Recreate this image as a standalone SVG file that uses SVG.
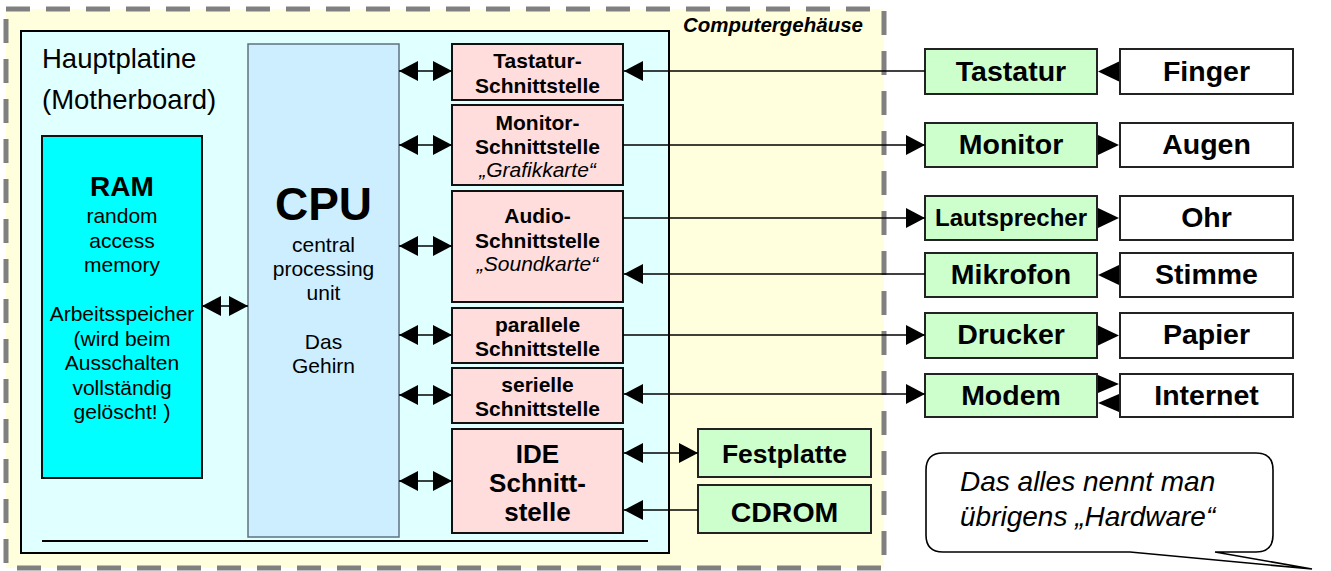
<svg xmlns="http://www.w3.org/2000/svg" width="1331" height="571" viewBox="0 0 1331 571">
<style>
text{font-family:"Liberation Sans",Arial,sans-serif;fill:#000}
.b{font-weight:bold}
.i{font-style:italic}
.c{text-anchor:middle}
.pink{fill:#FFDDDD;stroke:#111;stroke-width:2}
.green{fill:#CCFFCC;stroke:#222;stroke-width:2}
.white{fill:#FFFFFF;stroke:#222;stroke-width:2}
.ln{stroke:#000;stroke-width:1.6;fill:none}
.t21{font-size:21px}
.t28{font-size:28.5px}
</style>
<defs>
<marker id="ah" markerUnits="userSpaceOnUse" markerWidth="19" markerHeight="20" refX="19" refY="10" orient="auto-start-reverse" viewBox="0 0 19 20">
<path d="M0,0 L19,10 L0,20 Z" fill="#000"/>
</marker>
</defs>
<g id="gehaeuse">
<rect x="6" y="9" width="878" height="559" fill="#FFFFDD" stroke="#808080" stroke-width="5" stroke-dasharray="24,16"/>
<text x="863" y="32" class="b i" font-size="20.5" text-anchor="end">Computergehäuse</text>
</g>
<g id="hauptplatine">
<rect x="21" y="31" width="648" height="522" fill="#E0FFFF" stroke="#000" stroke-width="2"/>
<line x1="42" y1="541" x2="648" y2="541" stroke="#000" stroke-width="2"/>
<text x="42" y="68" font-size="27.5">Hauptplatine</text>
<text x="42" y="109" font-size="27.5">(Motherboard)</text>
</g>
<g id="ram">
<rect x="42" y="136" width="160" height="342" fill="#00FFFF" stroke="#111" stroke-width="2"/>
<text x="122" y="196" class="b c" font-size="28">RAM</text>
<text class="c t21" x="122" y="223">random</text>
<text class="c t21" x="122" y="247.5">access</text>
<text class="c t21" x="122" y="272">memory</text>
<text class="c t21" x="122" y="321">Arbeitsspeicher</text>
<text class="c t21" x="122" y="345.5">(wird beim</text>
<text class="c t21" x="122" y="370">Ausschalten</text>
<text class="c t21" x="122" y="394.5">vollständig</text>
<text class="c t21" x="122" y="419">gelöscht! )</text>
</g>
<g id="cpu">
<rect x="248" y="44" width="151" height="493" fill="#CCEEFF" stroke="#607080" stroke-width="1.5"/>
<text x="323.5" y="220" class="b c" font-size="46">CPU</text>
<text class="c t21" x="323.5" y="252">central</text>
<text class="c t21" x="323.5" y="276">processing</text>
<text class="c t21" x="323.5" y="300">unit</text>
<text class="c t21" x="323.5" y="349">Das</text>
<text class="c t21" x="323.5" y="373">Gehirn</text>
</g>
<g id="if-tastatur">
<rect class="pink" x="452" y="44" width="171" height="56"/>
<text class="b c t21" x="537.5" y="68">Tastatur-</text>
<text class="b c t21" x="537.5" y="92.5">Schnittstelle</text>
</g>
<g id="if-monitor">
<rect class="pink" x="452" y="105" width="171" height="80"/>
<text class="b c t21" x="537.5" y="130">Monitor-</text>
<text class="b c t21" x="537.5" y="154">Schnittstelle</text>
<text class="i c t21" x="537.5" y="177">„Grafikkarte“</text>
</g>
<g id="if-audio">
<rect class="pink" x="452" y="191" width="171" height="111"/>
<text class="b c t21" x="537.5" y="223">Audio-</text>
<text class="b c t21" x="537.5" y="247.5">Schnittstelle</text>
<text class="i c t21" x="537.5" y="271">„Soundkarte“</text>
</g>
<g id="if-parallel">
<rect class="pink" x="452" y="308" width="171" height="55"/>
<text class="b c t21" x="537.5" y="332">parallele</text>
<text class="b c t21" x="537.5" y="356">Schnittstelle</text>
</g>
<g id="if-seriell">
<rect class="pink" x="452" y="368" width="171" height="55"/>
<text class="b c t21" x="537.5" y="392">serielle</text>
<text class="b c t21" x="537.5" y="416">Schnittstelle</text>
</g>
<g id="if-ide">
<rect class="pink" x="452" y="429" width="171" height="104"/>
<text class="b c" font-size="26" x="537.5" y="463">IDE</text>
<text class="b c" font-size="26" x="537.5" y="492">Schnitt-</text>
<text class="b c" font-size="26" x="537.5" y="521">stelle</text>
</g>
<g id="tastatur">
<rect class="green" x="925" y="49" width="172" height="45"/>
<text class="b c t28" x="1011" y="81">Tastatur</text>
</g>
<g id="monitor">
<rect class="green" x="925" y="123" width="172" height="44"/>
<text class="b c t28" x="1011" y="154">Monitor</text>
</g>
<g id="lautsprecher">
<rect class="green" x="925" y="196" width="172" height="44"/>
<text class="b c" font-size="24" x="1011" y="226">Lautsprecher</text>
</g>
<g id="mikrofon">
<rect class="green" x="925" y="253" width="172" height="44"/>
<text class="b c t28" x="1011" y="284">Mikrofon</text>
</g>
<g id="drucker">
<rect class="green" x="925" y="313" width="172" height="45"/>
<text class="b c t28" x="1011" y="344">Drucker</text>
</g>
<g id="modem">
<rect class="green" x="925" y="374" width="172" height="43"/>
<text class="b c t28" x="1011" y="405">Modem</text>
</g>
<g id="festplatte">
<rect class="green" x="698" y="429" width="173" height="48"/>
<text class="b c" font-size="26.5" x="784.5" y="463">Festplatte</text>
</g>
<g id="cdrom">
<rect class="green" x="698" y="485" width="173" height="48"/>
<text class="b c t28" x="784.5" y="522">CDROM</text>
</g>
<g id="finger">
<rect class="white" x="1120" y="49" width="173" height="45"/>
<text class="b c t28" x="1206.5" y="81">Finger</text>
</g>
<g id="augen">
<rect class="white" x="1120" y="123" width="173" height="44"/>
<text class="b c t28" x="1206.5" y="154">Augen</text>
</g>
<g id="ohr">
<rect class="white" x="1120" y="196" width="173" height="44"/>
<text class="b c t28" x="1206.5" y="227">Ohr</text>
</g>
<g id="stimme">
<rect class="white" x="1120" y="253" width="173" height="44"/>
<text class="b c t28" x="1206.5" y="284">Stimme</text>
</g>
<g id="papier">
<rect class="white" x="1120" y="313" width="173" height="45"/>
<text class="b c t28" x="1206.5" y="344">Papier</text>
</g>
<g id="internet">
<rect class="white" x="1120" y="374" width="173" height="43"/>
<text class="b c t28" x="1206.5" y="405">Internet</text>
</g>
<g id="bubble">
<path d="M943,453 H1256 Q1273,453 1273,470 V535 Q1273,552 1256,552 H1215 L1312,569 L1130,552 H943 Q926,552 926,535 V470 Q926,453 943,453 Z" fill="#FFFFFF" stroke="#000" stroke-width="1.6"/>
<text class="i" font-size="28" x="960" y="491">Das alles nennt man</text>
<text class="i" font-size="28" x="960" y="526">übrigens „Hardware“</text>
</g>
<g id="connectors">
<line class="ln" x1="202" y1="306" x2="248" y2="306" marker-start="url(#ah)" marker-end="url(#ah)"/>
<line class="ln" x1="399" y1="71" x2="452" y2="71" marker-start="url(#ah)" marker-end="url(#ah)"/>
<line class="ln" x1="399" y1="145" x2="452" y2="145" marker-start="url(#ah)" marker-end="url(#ah)"/>
<line class="ln" x1="399" y1="246" x2="452" y2="246" marker-start="url(#ah)" marker-end="url(#ah)"/>
<line class="ln" x1="399" y1="335" x2="452" y2="335" marker-start="url(#ah)" marker-end="url(#ah)"/>
<line class="ln" x1="399" y1="395" x2="452" y2="395" marker-start="url(#ah)" marker-end="url(#ah)"/>
<line class="ln" x1="399" y1="481" x2="452" y2="481" marker-start="url(#ah)" marker-end="url(#ah)"/>
<line class="ln" x1="925" y1="71" x2="624" y2="71" marker-end="url(#ah)"/>
<line class="ln" x1="623" y1="145" x2="925" y2="145" marker-end="url(#ah)"/>
<line class="ln" x1="623" y1="218" x2="925" y2="218" marker-end="url(#ah)"/>
<line class="ln" x1="925" y1="274" x2="624" y2="274" marker-end="url(#ah)"/>
<line class="ln" x1="623" y1="335" x2="925" y2="335" marker-end="url(#ah)"/>
<line class="ln" x1="624" y1="394" x2="925" y2="394" marker-start="url(#ah)" marker-end="url(#ah)"/>
<line class="ln" x1="624" y1="453" x2="698" y2="453" marker-start="url(#ah)" marker-end="url(#ah)"/>
<line class="ln" x1="698" y1="510" x2="624" y2="510" marker-end="url(#ah)"/>
<polygon points="1098,71.5 1119,61.5 1119,81.5" fill="#000"/>
<polygon points="1119,145 1098,135 1098,155" fill="#000"/>
<polygon points="1119,218 1098,208 1098,228" fill="#000"/>
<polygon points="1098,275 1119,265 1119,285" fill="#000"/>
<polygon points="1119,335.5 1098,325.5 1098,345.5" fill="#000"/>
<polygon points="1119,384 1098,375 1098,393" fill="#000"/>
<polygon points="1098,403 1119,394 1119,412" fill="#000"/>
</g>
</svg>
